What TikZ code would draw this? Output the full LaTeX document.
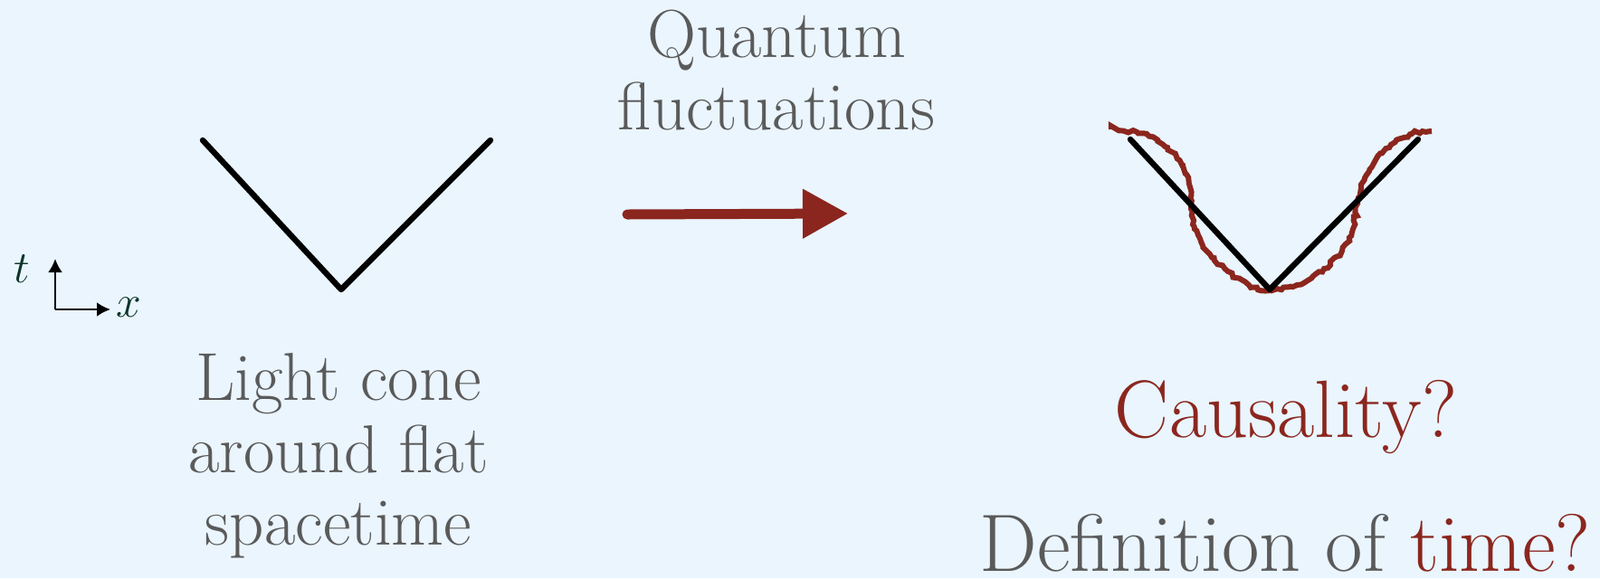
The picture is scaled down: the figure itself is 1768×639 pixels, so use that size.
\documentclass[tikz,border=0pt]{standalone}
\usepackage{xcolor}
\usepackage{tikz}
\usetikzlibrary{arrows.meta,calc,positioning,decorations.pathmorphing}
\definecolor{bgblue}{RGB}{234,245,254}
\definecolor{txtgray}{RGB}{90,90,90}
\definecolor{darkred}{RGB}{139,38,30}
\definecolor{axisgreen}{RGB}{12,52,40}

\begin{document}
\begin{tikzpicture}[x=0.5pt,y=-0.5pt,
  label/.style={text=txtgray,align=center,inner sep=0pt,font=\fontsize{37.5pt}{40pt}\selectfont},
  question/.style={inner sep=0pt,font=\fontsize{45pt}{50pt}\selectfont},
  axislabel/.style={text=axisgreen,inner sep=0pt,font=\fontsize{28pt}{32pt}\selectfont},
  cone/.style={line width=3.2pt,line cap=round,line join=round},
  wobble/.style={darkred,line width=3pt,decorate,decoration={random steps,segment length=2pt,amplitude=1pt}},
  axis/.style={-{Latex[length=7.5pt,width=8pt]},line width=1.3pt},
  bigarrow/.style={darkred,line width=5.5pt,line cap=round,-{Triangle[length=25pt,width=26pt]}},
  >=Latex
]
\fill[bgblue] (0,0) rectangle (1768,639);
\useasboundingbox (0,0) rectangle (1768,639);

% axes
\coordinate (o) at (61,342);
\coordinate (tend) at (61,286);
\coordinate (xend) at (122,342);
\draw[axis] (o) -- (tend);
\draw[axis] (o) -- (xend);
\node[axislabel] (tlab) at (24,297) {$t$};
\node[axislabel] (xlab) at (142,340) {$x$};

% flat light cone
\coordinate (lleft) at (224,155);
\coordinate (ltip) at (377,320);
\coordinate (lright) at (542,155);
\draw[cone] (lleft) -- (ltip) -- (lright);
\node[label,anchor=base] (flat) at (374,602) {Light cone\\around flat\\spacetime};

% arrow
\coordinate (astart) at (693,237);
\coordinate (aend) at (937,236);
\draw[bigarrow] (astart) -- (aend);
\node[label,anchor=base] (quant) at (858,143) {Quantum\\fluctuations};

% fluctuating light cone (relative to its tip)
\begin{scope}[shift={(1403,320)}]
\draw[wobble] plot[smooth,tension=0.6] coordinates {
  (-175,-177) (-136,-172) (-113,-157) (-96,-137) (-88,-113) (-87,-93)
  (-83,-67) (-70,-43) (-46,-20) (-23,-5) (0,1) (30,-5)
  (60,-23) (80,-43) (92,-67) (97,-97) (105,-123) (117,-143)
  (134,-160) (157,-172) (179,-175)};
\end{scope}
\coordinate (rleft) at (1249,154);
\coordinate (rtip) at (1403,320);
\coordinate (rright) at (1567,154);
\draw[cone] (rleft) -- (rtip) -- (rright);

\node[question,text=darkred,anchor=base] (caus) at (1421,483) {Causality?};
\node[question,text=txtgray,anchor=base] (deftime) at (1420,631) {Definition of \textcolor{darkred}{time?}};
\end{tikzpicture}
\end{document}
